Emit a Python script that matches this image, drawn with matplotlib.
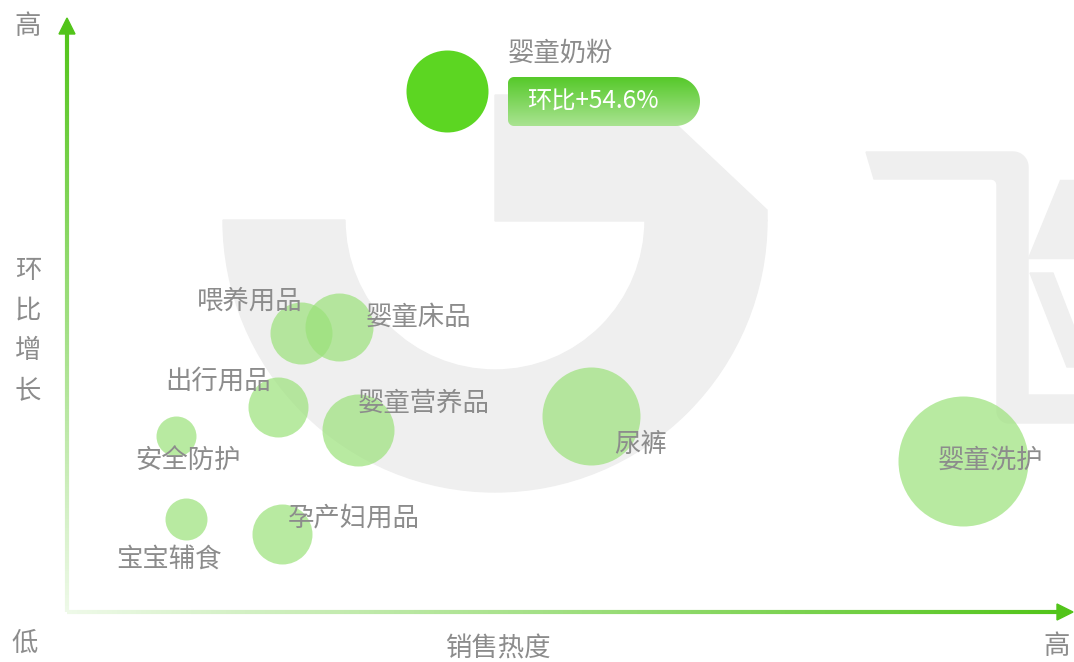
import matplotlib.pyplot as plt
import numpy as np
from matplotlib.collections import LineCollection
from matplotlib.colors import LinearSegmentedColormap, to_rgb
from matplotlib.patches import Polygon, Wedge

plt.rcParams["font.family"] = ["Noto Sans CJK SC", "DejaVu Sans"]
plt.rcParams["font.weight"] = "light"

# bubble data: sales heat (x), month-on-month growth (y), bubble radius (px)
categories = ["婴童奶粉", "喂养用品", "婴童床品", "出行用品", "婴童营养品",
              "尿裤", "婴童洗护", "安全防护", "宝宝辅食", "孕产妇用品"]
sales_heat = [37.8, 23.3, 27.1, 21.0, 29.0, 52.1, 89.2, 10.8, 11.8, 21.4]
growth = [87.7, 47.0, 48.0, 34.5, 30.6, 33.0, 25.4, 29.6, 15.7, 13.1]
bubble_r = [41, 31, 34, 30, 36, 49, 65, 20, 21, 30]
highlight = "婴童奶粉"
highlight_text = "环比+54.6%"

# label offsets from bubble centre in px (dx, dy down-positive, ha)
label_pos = {
    "婴童奶粉": (61, -38, "left"),
    "喂养用品": (-52, -32, "center"),
    "婴童床品": (26, -10, "left"),
    "出行用品": (-60, -26, "center"),
    "婴童营养品": (65, -27, "center"),
    "尿裤": (50, 28, "center"),
    "婴童洗护": (27, -1, "center"),
    "安全防护": (12, 25, "center"),
    "宝宝辅食": (-17, 40, "center"),
    "孕产妇用品": (72, -16, "center"),
}

GREEN = "#52c41a"
TEXT = "#8c8c8c"
WM = "#efefef"

W, H = 1074, 662
fig = plt.figure(figsize=(W / 100, H / 100), dpi=100)

# background layer in pixel coordinates (watermark, axes arrows, callout)
bg = fig.add_axes([0, 0, 1, 1])
bg.set_xlim(0, W)
bg.set_ylim(H, 0)
bg.axis("off")


def arc(cx, cy, r, t0, t1, n=12):
    return [(cx + r * np.cos(t), cy + r * np.sin(t)) for t in np.linspace(t0, t1, n)]


# watermark logo
bg.add_patch(Wedge((495, 220), 272, 0, 180, width=122, color=WM, zorder=0))
bg.add_patch(Polygon([(495, 95), (645, 95), (767, 210), (767, 221), (495, 221)],
                     closed=True, color=WM, zorder=0))
fei = [(866, 152)] + arc(1013, 167, 15, -np.pi / 2, 0) + [(1028, 395), (1074, 395),
       (1074, 423)] + arc(1009, 411, 12, np.pi / 2, np.pi) + arc(991, 185, 6, 0, -np.pi / 2) + [(874, 179)]
bg.add_patch(Polygon(fei, closed=True, color=WM, zorder=0))
bg.add_patch(Polygon([(1060, 180), (1074, 180), (1074, 258), (1028, 258)],
                     closed=True, color=WM, zorder=0))
bg.add_patch(Polygon([(1030, 273), (1053, 273), (1074, 327), (1074, 367), (1067, 367)],
                     closed=True, color=WM, zorder=0))


def grad_line(x0, y0, x1, y1, c0, c1, lw=3, n=200):
    xs = np.linspace(x0, x1, n + 1)
    ys = np.linspace(y0, y1, n + 1)
    segs = [[(xs[i], ys[i]), (xs[i + 1], ys[i + 1])] for i in range(n)]
    a, b = np.array(to_rgb(c0)), np.array(to_rgb(c1))
    cols = [a + (b - a) * t for t in np.linspace(0, 1, n)]
    bg.add_collection(LineCollection(segs, colors=cols, linewidths=lw, zorder=2))


# axes with gradient and arrow heads
grad_line(67, 612, 67, 32, "#eef9e8", GREEN)
bg.add_patch(Polygon([(67, 18), (59, 34), (75, 34)], closed=True, color=GREEN, zorder=3))
grad_line(67, 612, 1058, 612, "#eef9e8", GREEN)
bg.add_patch(Polygon([(1073, 612), (1057, 604), (1057, 620)], closed=True, color=GREEN, zorder=3))

bg.text(28, 26, "高", fontsize=19, color=TEXT, ha="center", va="center")
bg.text(25, 643, "低", fontsize=19, color=TEXT, ha="center", va="center")
bg.text(1057, 646, "高", fontsize=19, color=TEXT, ha="center", va="center")
bg.text(498, 649, "销售热度", fontsize=19, color=TEXT, ha="center", va="center")
for i, ch in enumerate("环比增长"):
    bg.text(28, 271 + 40 * i, ch, fontsize=19, color=TEXT, ha="center", va="center")

# callout pill with gradient
x0, x1, y0, y1 = 508, 700, 77, 126
rr, rl = (y1 - y0) / 2, 6
pts = (arc(x0 + rl, y0 + rl, rl, np.pi, 1.5 * np.pi, 10)
       + arc(x1 - rr, y0 + rr, rr, 1.5 * np.pi, 2.5 * np.pi, 40)
       + arc(x0 + rl, y1 - rl, rl, 0.5 * np.pi, np.pi, 10))
pill = Polygon(pts, closed=True, facecolor="none", edgecolor="none", zorder=4)
bg.add_patch(pill)
cmap = LinearSegmentedColormap.from_list("pill", ["#56c92a", "#a9e391"])
grad = np.linspace(0, 1, 100).reshape(-1, 1)
im = bg.imshow(grad, cmap=cmap, extent=(x0, x1, y1, y0), aspect="auto", zorder=4)
im.set_clip_path(pill)
bg.set_xlim(0, W)
bg.set_ylim(H, 0)
bg.text(527, 102, highlight_text, fontsize=17.5, color="white", ha="left", va="center", zorder=5)

# main plot area
ax = fig.add_axes([67 / W, 50 / H, 1005 / W, 594 / H])
ax.patch.set_alpha(0)
ax.set_xlim(0, 100)
ax.set_ylim(0, 100)
ax.axis("off")

for name, x, y, r in zip(categories, sales_heat, growth, bubble_r):
    s = (2 * r * 0.72) ** 2
    if name == highlight:
        ax.scatter(x, y, s=s, color="#5cd622", linewidths=0, zorder=3)
    else:
        ax.scatter(x, y, s=s, color="#9be27a", alpha=0.7, linewidths=0, zorder=2)
    dx, dy, ha = label_pos[name]
    ax.annotate(name, (x, y), xytext=(dx * 0.72, -dy * 0.72), textcoords="offset points",
                fontsize=19, color=TEXT, ha=ha, va="center", zorder=4)

fig.savefig("out.png", dpi=100)
